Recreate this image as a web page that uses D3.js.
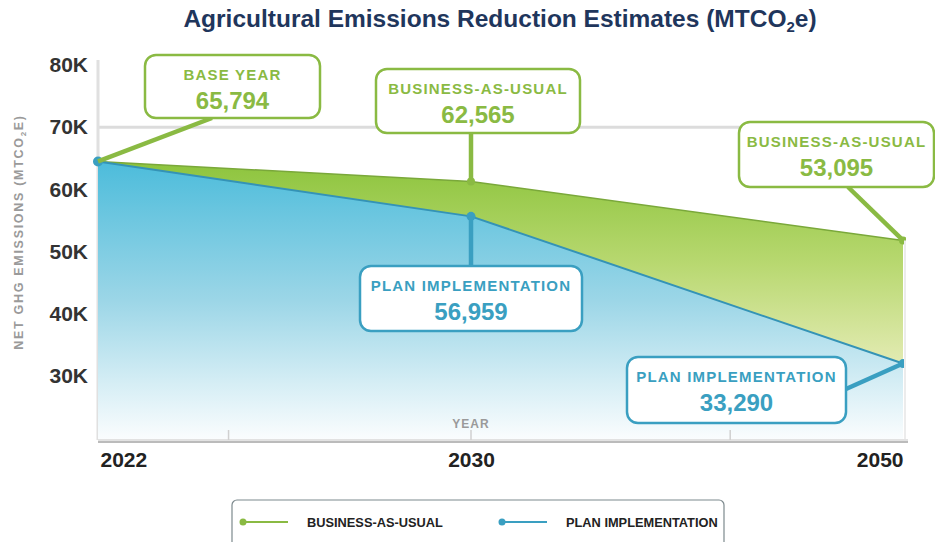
<!DOCTYPE html>
<html>
<head>
<meta charset="utf-8">
<script src="https://cdn.jsdelivr.net/npm/d3@7"></script>
<style>
  body { margin: 0; background: #fff; }
  svg { display: block; font-family: "Liberation Sans", Arial, sans-serif; }
  .y.axis text { font-size: 21px; font-weight: bold; fill: #333; }
  .x.axis text { font-size: 21px; font-weight: bold; fill: #222; }
  .callout-title { font-size: 15px; font-weight: bold; letter-spacing: 1.2px; }
  .callout-value { font-size: 24px; font-weight: bold; }
  .legend text { font-size: 12.8px; font-weight: bold; fill: #222; }
</style>
</head>
<body>
<div id="chart"></div>
<script>
// Data
var years = [2022, 2030, 2050];
var businessAsUsual = [65794, 62565, 53095];
var planImplementation = [65794, 56959, 33290];

var yTickValues = [30000, 40000, 50000, 60000, 70000, 80000];
var gridValues = [70000];
var minorTickYears = [2024.8, 2030, 2042];

var seriesNames = ["BUSINESS-AS-USUAL", "PLAN IMPLEMENTATION"];

// callouts: which series / which point, and the text shown
var calloutSeries = ["bau", "bau", "bau", "plan", "plan"];
var calloutIndex = [0, 1, 2, 1, 2];
var calloutTitles = ["BASE YEAR", "BUSINESS-AS-USUAL", "BUSINESS-AS-USUAL", "PLAN IMPLEMENTATION", "PLAN IMPLEMENTATION"];

function init() {

    var width = 935, height = 542;
    var green = "#8aba43", blue = "#3a9fc1";

    // callout boxes layout [x, y, w, h] and where the leader leaves the box
    var boxes = [
        {x: 145, y: 55, w: 175, h: 63, ax: 212, ay: 118},
        {x: 376, y: 69, w: 204, h: 64, ax: 471, ay: 133},
        {x: 739, y: 122, w: 195, h: 65, ax: 848, ay: 187},
        {x: 360, y: 266, w: 222, h: 65, ax: 471, ay: 266},
        {x: 627, y: 357, w: 219, h: 66, ax: 846, ay: 389}
    ];

    var dataset = years.map(function(y, i) {
        return {year: y, bau: businessAsUsual[i], plan: planImplementation[i]};
    });

    var xScale = d3.scaleLinear()
        .domain(years)
        .range([98, 471, 903]);

    var yScale = d3.scaleLinear()
        .domain([21000, 82100])
        .range([440, 60]);

    var svg = d3.select("#chart")
        .append("svg")
        .attr("width", width)
        .attr("height", height);

    var defs = svg.append("defs");

    var gGreen = defs.append("linearGradient")
        .attr("id", "gradGreen")
        .attr("gradientUnits", "userSpaceOnUse")
        .attr("x1", 0).attr("y1", 160).attr("x2", 0).attr("y2", 390);
    gGreen.append("stop").attr("offset", 0).attr("stop-color", "#8cc43c");
    gGreen.append("stop").attr("offset", 0.45).attr("stop-color", "#b8d870");
    gGreen.append("stop").attr("offset", 1).attr("stop-color", "#eef0c4");

    var gBlue = defs.append("linearGradient")
        .attr("id", "gradBlue")
        .attr("gradientUnits", "userSpaceOnUse")
        .attr("x1", 0).attr("y1", 161).attr("x2", 0).attr("y2", 440);
    gBlue.append("stop").attr("offset", 0).attr("stop-color", "#4cbcdb");
    gBlue.append("stop").attr("offset", 0.5).attr("stop-color", "#9cd6e7");
    gBlue.append("stop").attr("offset", 0.8).attr("stop-color", "#d6eef5");
    gBlue.append("stop").attr("offset", 1).attr("stop-color", "#fbfdfe");

    defs.append("clipPath")
        .attr("id", "clip")
        .append("rect")
        .attr("x", 0).attr("y", 0)
        .attr("width", 906).attr("height", height);

    // Title
    var title = svg.append("text")
        .attr("x", 500)
        .attr("y", 27)
        .attr("text-anchor", "middle")
        .style("font-size", "24.5px")
        .style("font-weight", "bold")
        .style("fill", "#1f365c");
    title.append("tspan").text("Agricultural Emissions Reduction Estimates (MTCO");
    title.append("tspan").attr("dy", 5).style("font-size", "15px").text("2");
    title.append("tspan").attr("dy", -5).text("e)");

    // grid line
    var yOffset = -8;
    svg.append("g")
        .attr("class", "grid")
        .attr("transform", "translate(0," + yOffset + ")")
        .selectAll("line")
        .data(gridValues)
        .enter().append("line")
        .attr("x1", 98).attr("x2", 903)
        .attr("y1", function(d) { return yScale(d); })
        .attr("y2", function(d) { return yScale(d); })
        .attr("stroke", "#dcdcdc")
        .attr("stroke-width", 3);

    // left axis line
    svg.append("line")
        .attr("x1", 98).attr("x2", 98)
        .attr("y1", 60).attr("y2", 440)
        .attr("stroke", "#e0e0e0")
        .attr("stroke-width", 3);

    var plot = svg.append("g").attr("clip-path", "url(#clip)");

    // Areas
    var greenArea = d3.area()
        .x(function(d) { return xScale(d.year); })
        .y0(function(d) { return yScale(d.plan); })
        .y1(function(d) { return yScale(d.bau); });

    var blueArea = d3.area()
        .x(function(d) { return xScale(d.year); })
        .y0(440)
        .y1(function(d) { return yScale(d.plan); });

    plot.append("path").datum(dataset)
        .attr("d", greenArea)
        .attr("fill", "url(#gradGreen)");

    plot.append("path").datum(dataset)
        .attr("d", blueArea)
        .attr("fill", "url(#gradBlue)");

    // right edge
    svg.append("line")
        .attr("x1", 905).attr("x2", 905)
        .attr("y1", yScale(businessAsUsual[2])).attr("y2", 440)
        .attr("stroke", "#ececec")
        .attr("stroke-width", 2);

    // Lines
    var bauLine = d3.line()
        .x(function(d) { return xScale(d.year); })
        .y(function(d) { return yScale(d.bau); });

    var planLine = d3.line()
        .x(function(d) { return xScale(d.year); })
        .y(function(d) { return yScale(d.plan); });

    plot.append("path").datum(dataset)
        .attr("d", bauLine)
        .attr("fill", "none")
        .attr("stroke", "#7aa83a")
        .attr("stroke-width", 1.5);

    plot.append("path").datum(dataset)
        .attr("d", planLine)
        .attr("fill", "none")
        .attr("stroke", "#3493b6")
        .attr("stroke-width", 2);

    // X axis
    svg.append("line")
        .attr("x1", 98).attr("x2", 908)
        .attr("y1", 442).attr("y2", 442)
        .attr("stroke", "#bbb")
        .attr("stroke-width", 2);
    svg.append("line")
        .attr("x1", 98).attr("x2", 908)
        .attr("y1", 440).attr("y2", 440)
        .attr("stroke", "#e2e2e2")
        .attr("stroke-width", 2);

    svg.append("g")
        .selectAll("line")
        .data(minorTickYears)
        .enter().append("line")
        .attr("x1", function(d) { return xScale(d); })
        .attr("x2", function(d) { return xScale(d); })
        .attr("y1", 430).attr("y2", 440)
        .attr("stroke", "#d0d0d0")
        .attr("stroke-width", 1.5);

    var xAxis = d3.axisBottom(xScale).tickValues(years).tickSize(0).tickPadding(12)
        .tickFormat(d3.format("d"));

    var xg = svg.append("g")
        .attr("class", "x axis")
        .attr("transform", "translate(0,440)")
        .call(xAxis);
    xg.select(".domain").remove();
    xg.selectAll("text")
        .attr("dy", "0.71em")
        .attr("text-anchor", function(d, i) { return i == 0 ? "start" : (i == years.length - 1 ? "end" : "middle"); })
        .attr("dx", function(d, i) { return i == 0 ? 2 : 0; });

    svg.append("text")
        .attr("x", xScale(2030))
        .attr("y", 428)
        .attr("text-anchor", "middle")
        .style("font-size", "12px")
        .style("font-weight", "bold")
        .style("letter-spacing", "1px")
        .style("fill", "#9a9a9a")
        .text("YEAR");

    // Y axis
    var yAxis = d3.axisLeft(yScale).tickValues(yTickValues).tickSize(0).tickPadding(10)
        .tickFormat(function(d) { return (d / 1000) + "K"; });

    var yg = svg.append("g")
        .attr("class", "y axis")
        .attr("transform", "translate(98," + yOffset + ")")
        .call(yAxis);
    yg.select(".domain").remove();

    var yTitle = svg.append("text")
        .attr("transform", "translate(23,232) rotate(-90)")
        .attr("text-anchor", "middle")
        .style("font-size", "12.5px")
        .style("font-weight", "bold")
        .style("letter-spacing", "1.7px")
        .style("fill", "#9a9a9a");
    yTitle.append("tspan").text("NET GHG EMISSIONS (MTCO");
    yTitle.append("tspan").attr("dy", 3).style("font-size", "8px").text("2");
    yTitle.append("tspan").attr("dy", -3).text("E)");

    // Markers
    var markers = plot.append("g");
    markers.selectAll(".bau-dot")
        .data(dataset.slice(1))
        .enter().append("circle")
        .attr("cx", function(d) { return xScale(d.year); })
        .attr("cy", function(d) { return yScale(d.bau); })
        .attr("r", 4)
        .attr("fill", green);

    markers.selectAll(".plan-dot")
        .data(dataset)
        .enter().append("circle")
        .attr("cx", function(d) { return xScale(d.year); })
        .attr("cy", function(d) { return yScale(d.plan); })
        .attr("r", function(d, i) { return i == 0 ? 5 : 4.5; })
        .attr("fill", blue);

    // Callouts
    var fmt = d3.format(",");
    var callG = svg.append("g").attr("class", "callouts");

    calloutTitles.forEach(function(t, i) {
        var s = calloutSeries[i];
        var d = dataset[calloutIndex[i]];
        var color = s == "bau" ? green : blue;
        var b = boxes[i];

        // leader line
        plot.append("line")
            .attr("x1", xScale(d.year))
            .attr("y1", yScale(d[s]))
            .attr("x2", b.ax)
            .attr("y2", b.ay)
            .attr("stroke", color)
            .attr("stroke-width", 4.5);

        callG.append("rect")
            .attr("x", b.x).attr("y", b.y)
            .attr("width", b.w).attr("height", b.h)
            .attr("rx", 11).attr("ry", 11)
            .attr("fill", "#fff")
            .attr("stroke", color)
            .attr("stroke-width", 2.5);

        callG.append("text")
            .attr("class", "callout-title")
            .attr("x", b.x + b.w / 2)
            .attr("y", b.y + 25)
            .attr("text-anchor", "middle")
            .style("fill", color)
            .text(t);

        callG.append("text")
            .attr("class", "callout-value")
            .attr("x", b.x + b.w / 2)
            .attr("y", b.y + 54)
            .attr("text-anchor", "middle")
            .style("fill", color)
            .text(fmt(d[s]));
    });

    // Legend
    var legend = svg.append("g").attr("class", "legend");
    legend.append("rect")
        .attr("x", 232).attr("y", 500)
        .attr("width", 492).attr("height", 60)
        .attr("rx", 5)
        .attr("fill", "#fff")
        .attr("stroke", "#7d8a8e")
        .attr("stroke-width", 1.2);

    var legendColors = [green, blue];
    var legendX = [243, 502];
    seriesNames.forEach(function(n, i) {
        var lx = legendX[i];
        legend.append("line")
            .attr("x1", lx).attr("x2", lx + 45)
            .attr("y1", 522).attr("y2", 522)
            .attr("stroke", legendColors[i])
            .attr("stroke-width", 2);
        legend.append("circle")
            .attr("cx", lx).attr("cy", 522)
            .attr("r", 3.5)
            .attr("fill", legendColors[i]);
        legend.append("text")
            .attr("x", lx + 64)
            .attr("y", 527)
            .text(n);
    });
}

window.onload = init;
</script>
</body>
</html>
